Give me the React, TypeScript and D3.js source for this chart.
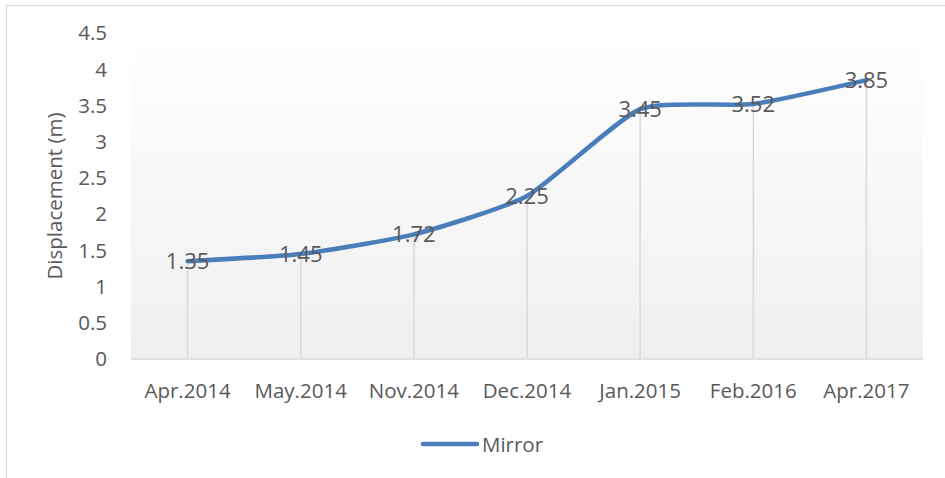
import React from "react";
import * as d3 from "d3";

const categories = ["Apr.2014", "May.2014", "Nov.2014", "Dec.2014", "Jan.2015", "Feb.2016", "Apr.2017"];
const mirrorValues = [1.35, 1.45, 1.72, 2.25, 3.45, 3.52, 3.85];
const yTicks = [0, 0.5, 1, 1.5, 2, 2.5, 3, 3.5, 4, 4.5];
const seriesName = "Mirror";
const yTitle = "Displacement (m)";

const W = 945;
const H = 478;
const plot = { left: 131, right: 923, top: 33, bottom: 359 };
const FONT = "'Open Sans', 'Liberation Sans', sans-serif";
const TEXT = "#595959";
const LINE = "#4a7ebb";
const GRID = "#d9d9d9";

export default function App() {
  const x = d3.scaleBand<string>().domain(categories).range([plot.left, plot.right]);
  const y = d3.scaleLinear().domain([0, 4.5]).range([plot.bottom, plot.top]);
  const cx = (c: string) => (x(c) as number) + x.bandwidth() / 2;
  const pts: [number, number][] = categories.map((c, i) => [cx(c), y(mirrorValues[i])]);
  const line = d3.line<[number, number]>().curve(d3.curveCardinal.tension(0.45))(pts) || "";

  return (
    <svg width={W} height={H} style={{ position: "absolute", left: 0, top: 0, background: "#fff" }} fontFamily={FONT}>
      <defs>
        <linearGradient id="pg" x1="0" y1="0" x2="0" y2="1">
          <stop offset="0" stopColor="#ffffff" />
          <stop offset="1" stopColor="#efefef" />
        </linearGradient>
      </defs>
      <rect x={6.5} y={5.5} width={W + 10} height={H + 10} fill="#fff" stroke={GRID} strokeWidth={1.2} />
      <rect x={plot.left} y={plot.top} width={plot.right - plot.left} height={plot.bottom - plot.top} fill="url(#pg)" />
      {categories.map((c, i) => (
        <line key={"d" + c} x1={cx(c)} x2={cx(c)} y1={y(mirrorValues[i])} y2={plot.bottom} stroke={GRID} strokeWidth={1.5} />
      ))}
      <line x1={plot.left} x2={plot.right} y1={plot.bottom} y2={plot.bottom} stroke={GRID} strokeWidth={1.5} />
      {yTicks.map((t) => (
        <text key={"y" + t} x={107} y={y(t)} dy="0.36em" textAnchor="end" fontSize={20.5} fill={TEXT}>
          {String(t)}
        </text>
      ))}
      {categories.map((c) => (
        <text key={"x" + c} x={cx(c)} y={398} textAnchor="middle" fontSize={20.5} fill={TEXT}>
          {c}
        </text>
      ))}
      <text transform={`translate(62,${(plot.top + plot.bottom) / 2}) rotate(-90)`} textAnchor="middle" fontSize={20.5} fill={TEXT}>
        {yTitle}
      </text>
      <path d={line} fill="none" stroke={LINE} strokeWidth={4.5} strokeLinecap="round" strokeLinejoin="round" />
      {categories.map((c, i) => (
        <text key={"l" + c} x={cx(c)} y={y(mirrorValues[i])} dy="0.36em" textAnchor="middle" fontSize={22} fill={TEXT}>
          {mirrorValues[i].toFixed(2)}
        </text>
      ))}
      <line x1={423} x2={477} y1={444} y2={444} stroke={LINE} strokeWidth={4.5} strokeLinecap="round" />
      <text x={482} y={452} fontSize={20.5} fill={TEXT}>{seriesName}</text>
    </svg>
  );
}
